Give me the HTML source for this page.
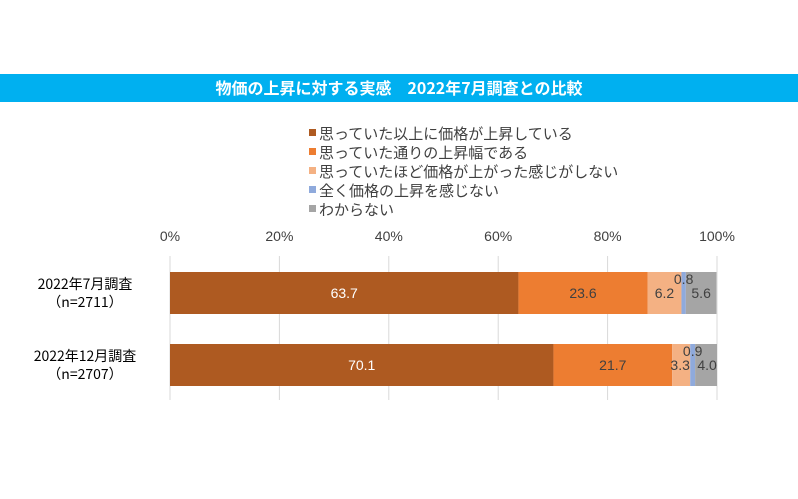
<!DOCTYPE html>
<html><head><meta charset="utf-8"><style>
body{margin:0;background:#fff;font-family:"Liberation Sans","Noto Sans CJK JP",sans-serif;}
#wrap{position:relative;width:798px;height:499px;overflow:hidden;}
</style></head><body>
<div id="wrap">
<svg id="svg" width="798" height="499">
<rect x="0" y="74" width="798" height="28" fill="#00B0F0"/>
<text x="399" y="94" text-anchor="middle" fill="#fff" font-size="16" font-weight="bold" font-family="Noto Sans CJK JP, sans-serif">物価の上昇に対する実感　2022年7月調査との比較</text>
<g id="legend"></g><g id="grid"></g><g id="bars"></g><g id="labels"></g>
</svg>
</div>
<script>
const categories=["2022年7月調査","2022年12月調査"];
const samples=["（n=2711）","（n=2707）"];
const seriesNames=["思っていた以上に価格が上昇している","思っていた通りの上昇幅である","思っていたほど価格が上がった感じがしない","全く価格の上昇を感じない","わからない"];
const s1=[63.7,70.1];
const s2=[23.6,21.7];
const s3=[6.2,3.3];
const s4=[0.8,0.9];
const s5=[5.6,4.0];
const ticks=[0,20,40,60,80,100];
const colors=["#AE5A21","#ED7D31","#F4B183","#8FAADC","#A5A5A5"];
const series=[s1,s2,s3,s4,s5];
const NS="http://www.w3.org/2000/svg";
const x0=170,x1=717;
const xs=v=>x0+(x1-x0)*v/100;
const rowY=i=>272+i*72, bh=42;
function mk(t,a,p){const e=document.createElementNS(NS,t);for(const k in a)e.setAttribute(k,a[k]);p.appendChild(e);return e;}
const lg=document.getElementById('legend');
seriesNames.forEach((n,i)=>{
 const r=mk('rect',{x:309,y:129+i*19,width:7,height:7,fill:colors[i]},lg);
 
 
 const t=mk('text',{x:319,y:139+i*19,'font-size':15,fill:'#404040','font-family':'Noto Sans CJK JP, sans-serif'},lg);
 t.textContent=n;
 
 
});
const gg=document.getElementById('grid');
ticks.forEach(v=>{
 const l=mk('line',{x1:xs(v),x2:xs(v),y1:256,y2:400,stroke:'#D9D9D9','stroke-width':1},gg);
 
 
 const t=mk('text',{x:xs(v),y:241,'text-anchor':'middle','font-size':14,fill:'#404040'},gg);
 t.textContent=v+'%';
 
 
});
const bg=document.getElementById('bars');
const lb=document.getElementById('labels');
categories.forEach((c,i)=>{
 const y=rowY(i);
 const t1=mk('text',{x:85,y:y+17,'text-anchor':'middle','font-size':14,fill:'#000','font-family':'Noto Sans CJK JP, sans-serif'},bg);
 t1.textContent=c;
 
 
 const t2=mk('text',{x:85,y:y+35,'text-anchor':'middle','font-size':14,fill:'#000','font-family':'Noto Sans CJK JP, sans-serif'},bg);
 t2.textContent=samples[i];
 
 
 let acc=0;
 series.forEach((s,k)=>{
  const v=s[i];
  const r=mk('rect',{x:xs(acc),y:y,width:xs(acc+v)-xs(acc),height:bh,fill:colors[k]},bg);
  
  
  const cx=(xs(acc)+xs(acc+v))/2;
  let ty=y+bh/2+5,tx=cx;
  if(k===3){ty=y+12;}
  if(k===2&&i===1){tx=xs(acc)+8;}
  if(k===4&&i===1){tx=cx+1;}
  const lt=mk('text',{x:tx,y:ty,'text-anchor':'middle','font-size':14,fill:k===0?'#fff':'#404040'},lb);
  lt.textContent=v.toFixed(1);
  
  
  acc+=v;
 });
});
</script>
</body></html>
